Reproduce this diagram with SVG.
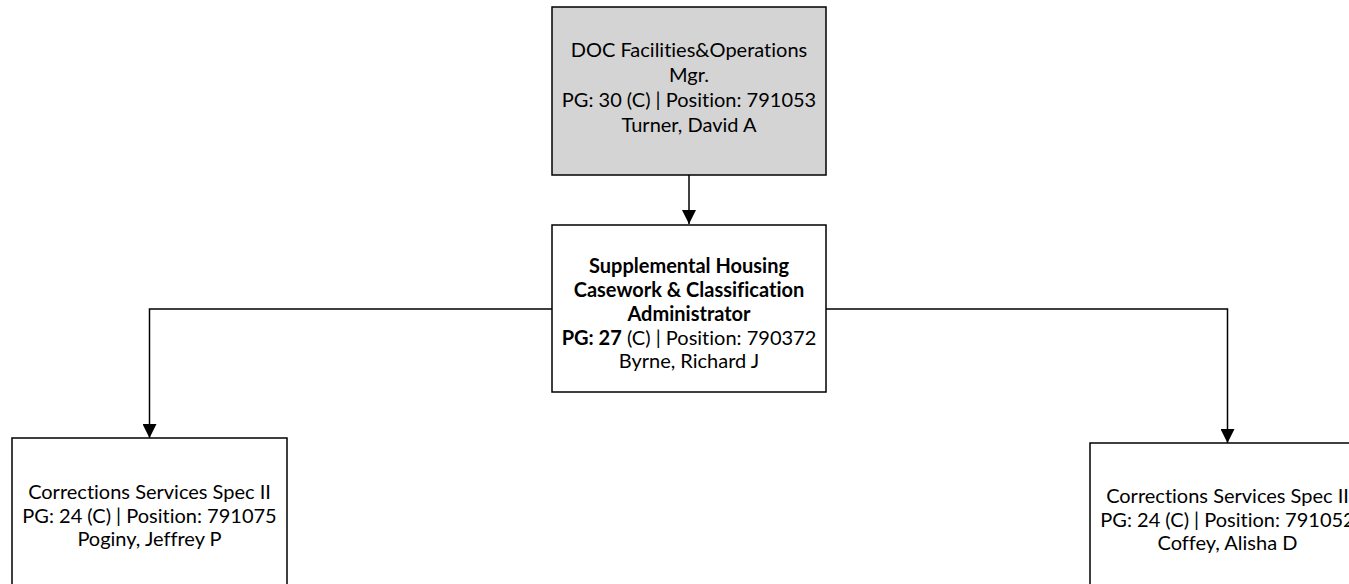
<svg xmlns="http://www.w3.org/2000/svg" width="1349" height="584" viewBox="0 0 1349 584">
<style>
.box{fill:#ffffff;stroke:#000000;stroke-width:1.5}
.gray{fill:#d4d4d4}
.t{font-family:Lato,"Open Sans","Liberation Sans",sans-serif;font-size:20px;fill:#000000;text-anchor:middle;font-variant-ligatures:none}
.b{font-weight:bold}
.conn{fill:none;stroke:#000000;stroke-width:1.5}
</style>
<defs>
<marker id="arr" viewBox="0 0 14 14" refX="14" refY="7" markerWidth="14" markerHeight="14" markerUnits="userSpaceOnUse" orient="auto">
<path d="M0,0 L14,7 L0,14 Z" fill="#000000"/>
</marker>
</defs>
<rect width="1349" height="584" fill="#ffffff"/>
<g id="connectors">
<path class="conn" d="M689,175 L689,224" marker-end="url(#arr)"/>
<path class="conn" d="M552,309 L149.5,309 L149.5,438" marker-end="url(#arr)"/>
<path class="conn" d="M826,309 L1227.5,309 L1227.5,443" marker-end="url(#arr)"/>
</g>
<g id="node-turner">
<rect class="box gray" x="552" y="7" width="274" height="168"/>
<text class="t" x="689" y="57">DOC Facilities&amp;Operations</text>
<text class="t" x="689" y="82">Mgr.</text>
<text class="t" x="689" y="107">PG: 30 (C) | Position: 791053</text>
<text class="t" x="689" y="132">Turner, David A</text>
</g>
<g id="node-byrne">
<rect class="box" x="552" y="225" width="274" height="167"/>
<text class="t b" x="689" y="273">Supplemental Housing</text>
<text class="t b" x="689" y="297">Casework &amp; Classification</text>
<text class="t b" x="689" y="321">Administrator</text>
<text class="t" x="689" y="345"><tspan class="b">PG: 27</tspan> (C) | Position: 790372</text>
<text class="t" x="689" y="368">Byrne, Richard J</text>
</g>
<g id="node-poginy">
<rect class="box" x="12" y="438" width="275" height="170"/>
<text class="t" x="149.5" y="499">Corrections Services Spec II</text>
<text class="t" x="149.5" y="523">PG: 24 (C) | Position: 791075</text>
<text class="t" x="149.5" y="546">Poginy, Jeffrey P</text>
</g>
<g id="node-coffey">
<rect class="box" x="1090" y="443" width="275" height="170"/>
<text class="t" x="1227.5" y="503">Corrections Services Spec II</text>
<text class="t" x="1227.5" y="527">PG: 24 (C) | Position: 791052</text>
<text class="t" x="1227.5" y="550">Coffey, Alisha D</text>
</g>
</svg>
